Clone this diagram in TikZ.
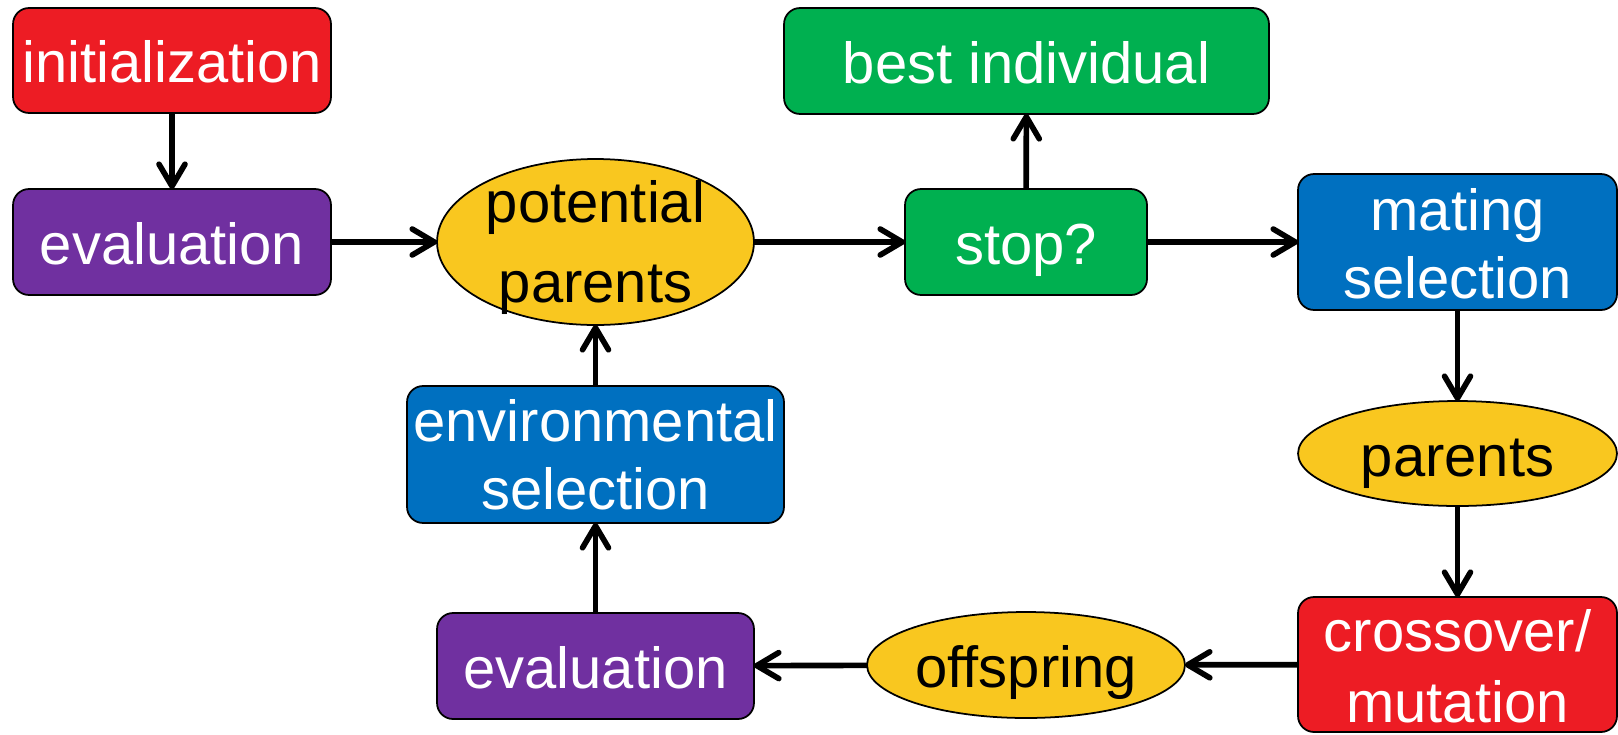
\documentclass[tikz,border=0pt]{standalone}
\usepackage{fontspec}
\setmainfont{Liberation Sans}
\usetikzlibrary{shapes.geometric,arrows.meta}
\definecolor{cred}{RGB}{237,28,36}
\definecolor{cpurple}{RGB}{112,48,160}
\definecolor{cgreen}{RGB}{0,176,80}
\definecolor{cblue}{RGB}{0,112,192}
\definecolor{cyel}{RGB}{249,199,31}
\newcommand\onel[1]{\raisebox{-0.45cm}[0pt][0pt]{#1}}
\newcommand\twol[4]{\raisebox{-#2}[0pt][0pt]{\vbox{\baselineskip=#1\relax\lineskiplimit=-10cm\halign{\hfil##\hfil\cr#3\cr#4\cr}}}}
\begin{document}
\begin{tikzpicture}[x=0.02cm,y=-0.02cm,
  box/.style={draw=black,line width=1pt,rounded corners=0.32cm,inner sep=0pt,outer sep=0pt,text=white,font=\fontsize{33pt}{40pt}\selectfont},
  ell/.style={ellipse,draw=black,line width=1pt,inner sep=0pt,outer sep=0pt,text=black,fill=cyel,font=\fontsize{33pt}{40pt}\selectfont},
  conn/.style={line width=3.2pt,-{Straight Barb[length=0.44cm,width=0.52cm,round]}}]
\useasboundingbox[fill=white] (0,0) rectangle (1618,734);
\node[box,fill=cred,minimum width=6.36cm,minimum height=2.10cm] (init) at (172,60.5) {\onel{initialization}};
\node[box,fill=cpurple,minimum width=6.36cm,minimum height=2.12cm] (eval1) at (172,242) {\onel{evaluation}};
\node[ell,minimum width=6.34cm,minimum height=3.32cm] (pp) at (595.5,242) {\twol{1.62cm}{1.22cm}{potential}{parents}};
\node[box,fill=cgreen,minimum width=4.84cm,minimum height=2.12cm] (stop) at (1026,242) {\onel{stop?}};
\node[box,fill=cgreen,minimum width=9.70cm,minimum height=2.12cm] (best) at (1026.5,61) {\onel{best individual}};
\node[box,fill=cblue,minimum width=6.38cm,minimum height=2.72cm] (mating) at (1457.5,242) {\twol{1.38cm}{1.14cm}{mating}{selection}};
\node[ell,minimum width=6.38cm,minimum height=2.10cm] (parents) at (1457.5,453.5) {\onel{parents}};
\node[box,fill=cred,minimum width=6.38cm,minimum height=2.70cm] (cross) at (1457.5,664.5) {\twol{1.42cm}{1.15cm}{crossover/}{mutation}};
\node[ell,minimum width=6.36cm,minimum height=2.12cm] (off) at (1026,665) {\onel{offspring}};
\node[box,fill=cpurple,minimum width=6.34cm,minimum height=2.12cm] (eval2) at (595.5,666) {\onel{evaluation}};
\node[box,fill=cblue,minimum width=7.54cm,minimum height=2.74cm] (env) at (595.5,454.5) {\twol{1.38cm}{1.11cm}{environmental}{selection}};
\draw[conn] (init) -- (eval1);
\draw[conn] (eval1) -- (pp);
\draw[conn] (pp) -- (stop);
\draw[conn] (stop) -- (best);
\draw[conn] (stop) -- (mating);
\draw[conn] (mating) -- (parents);
\draw[conn] (parents) -- (cross);
\draw[conn] (cross) -- (off);
\draw[conn] (off) -- (eval2);
\draw[conn] (eval2) -- (env);
\draw[conn] (env) -- (pp);
\end{tikzpicture}
\end{document}
